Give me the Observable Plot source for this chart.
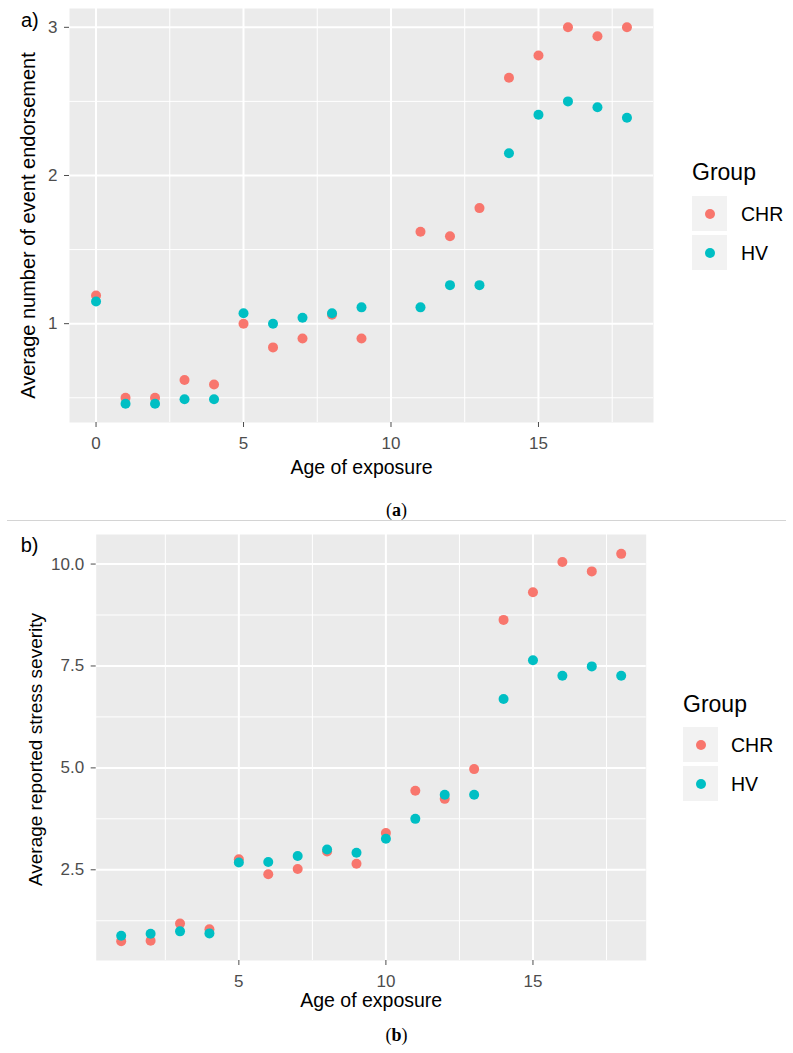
<!DOCTYPE html>
<html><head><meta charset="utf-8">
<script src="https://cdn.jsdelivr.net/npm/d3@7"></script>
<script src="https://cdn.jsdelivr.net/npm/@observablehq/plot@0.6"></script>
<style>
body{margin:0;background:#fff;font-family:"Liberation Sans",Arial,sans-serif;}
#page{position:relative;width:793px;height:1053px;overflow:hidden;background:#fff;}
.abs{position:absolute;white-space:nowrap;}
.lt{font-size:23px;line-height:26px;color:#000;}
.ll{font-size:19.5px;line-height:24px;color:#000;}
.key{position:absolute;width:35px;height:35px;background:#F2F2F2;}
.key span{position:absolute;left:12.5px;top:12.5px;width:10px;height:10px;border-radius:50%;}
.cap{font-family:"Liberation Serif","Times New Roman",serif;font-size:18px;line-height:22px;color:#000;}
</style></head><body><div id="page"></div>
<script>
// ---- data ----
const groups = ["CHR", "HV"];
const groupColors = ["#F8766D", "#00BFC4"];

// panel a: average number of event endorsement
const agesA = [0, 1, 2, 3, 4, 5, 6, 7, 8, 9, 11, 12, 13, 14, 15, 16, 17, 18];
const endorseCHR = [1.19, 0.50, 0.50, 0.62, 0.59, 1.00, 0.84, 0.90, 1.06, 0.90, 1.62, 1.59, 1.78, 2.66, 2.81, 3.00, 2.94, 3.00];
const endorseHV  = [1.15, 0.46, 0.46, 0.49, 0.49, 1.07, 1.00, 1.04, 1.07, 1.11, 1.11, 1.26, 1.26, 2.15, 2.41, 2.50, 2.46, 2.39];
const xTicksA = [0, 5, 10, 15];
const yTicksA = [1, 2, 3];

// panel b: average reported stress severity
const agesB = [1, 2, 3, 4, 5, 6, 7, 8, 9, 10, 11, 12, 13, 14, 15, 16, 17, 18];
const stressCHR = [0.75, 0.76, 1.18, 1.04, 2.76, 2.39, 2.52, 2.95, 2.65, 3.40, 4.44, 4.24, 4.97, 8.63, 9.31, 10.05, 9.82, 10.25];
const stressHV  = [0.88, 0.93, 0.99, 0.94, 2.68, 2.69, 2.84, 3.00, 2.92, 3.26, 3.75, 4.34, 4.34, 6.69, 7.64, 7.26, 7.49, 7.26];
const xTicksB = [5, 10, 15];
const yTicksB = [2.5, 5.0, 7.5, 10.0];

const xTitle = "Age of exposure";
const yTitleA = "Average number of event endorsement";
const yTitleB = "Average reported stress severity";
const legendTitle = "Group";

// ---- helpers ----
function expand([a, b]) { const p = (b - a) * 0.05; return [a - p, b + p]; }
function minorOf(major, domain) {
  const step = major[1] - major[0];
  const vals = [major[0] - step / 2, ...major.map(v => v + step / 2)];
  return vals.filter(v => v > domain[0] && v < domain[1]);
}
function panel(cfg) {
  const rows = [
    ...cfg.ages.map((a, i) => ({age: a, value: cfg.chr[i], group: groups[0]})),
    ...cfg.ages.map((a, i) => ({age: a, value: cfg.hv[i], group: groups[1]}))
  ];
  const xd = expand(d3.extent(cfg.ages));
  const yd = expand(d3.extent(rows, d => d.value));
  const ax = {fontSize: 17, color: "#4D4D4D", tickSize: 5, label: null};
  const grid = {stroke: "#fff", strokeOpacity: 1};
  return Plot.plot({
    width: 793, height: cfg.height,
    marginTop: cfg.mt, marginRight: cfg.mr, marginBottom: cfg.mb, marginLeft: cfg.ml,
    style: {fontFamily: '"Liberation Sans", Arial, sans-serif', background: "transparent", overflow: "visible"},
    x: {domain: xd, label: null},
    y: {domain: yd, label: null},
    color: {domain: groups, range: groupColors},
    marks: [
      Plot.frame({fill: "#EBEBEB", stroke: "none"}),
      Plot.gridX(minorOf(cfg.xTicks, xd), {...grid, strokeWidth: 1}),
      Plot.gridY(minorOf(cfg.yTicks, yd), {...grid, strokeWidth: 1}),
      Plot.gridX(cfg.xTicks, {...grid, strokeWidth: 2}),
      Plot.gridY(cfg.yTicks, {...grid, strokeWidth: 2}),
      Plot.axisX(cfg.xTicks, {...ax, tickPadding: 9, tickFormat: d3.format("d")}),
      Plot.axisY(cfg.yTicks, {...ax, tickPadding: 7, tickFormat: cfg.yFormat}),
      Plot.dot(rows, {x: "age", y: "value", fill: "group", r: 5}),
      Plot.text([xTitle], {text: d => d, frameAnchor: "bottom", dy: cfg.xTitleDy, fontSize: 19.5, fill: "#000", lineAnchor: "middle", textAnchor: "middle"}),
      Plot.text([cfg.yTitle], {text: d => d, frameAnchor: "left", dx: cfg.yTitleDx, dy: cfg.yTitleDy, rotate: -90, fontSize: cfg.yTitleSize, fill: "#000", lineAnchor: "middle", textAnchor: "middle"})
    ]
  });
}
const page = document.getElementById("page");
function place(el, left, top) {
  const d = document.createElement("div");
  d.className = "abs"; d.style.left = left + "px"; d.style.top = top + "px";
  d.appendChild(el); page.appendChild(d); return d;
}
function textDiv(txt, cls, left, top, html) {
  const d = document.createElement("div");
  d.className = "abs " + cls; d.style.left = left + "px"; d.style.top = top + "px";
  if (html) d.innerHTML = txt; else d.textContent = txt;
  page.appendChild(d); return d;
}
function legend(left, titleCenter, keyTop, labelLeft) {
  textDiv(legendTitle, "lt", left, titleCenter - 13);
  groups.forEach((g, i) => {
    const k = document.createElement("div");
    k.className = "key"; k.style.left = left + "px"; k.style.top = (keyTop + i * 39) + "px";
    const s = document.createElement("span"); s.style.background = groupColors[i];
    k.appendChild(s); page.appendChild(k);
    textDiv(g, "ll", labelLeft, keyTop + i * 39 + 17.5 - 12);
  });
}

// ---- panel a ----
place(panel({
  ages: agesA, chr: endorseCHR, hv: endorseHV, xTicks: xTicksA, yTicks: yTicksA, yFormat: d3.format("d"),
  height: 500, mt: 8, mr: 140, mb: 78, ml: 69,
  xTitleDy: 45, yTitle: yTitleA, yTitleDx: -40.5, yTitleDy: 10, yTitleSize: 20
}), 0, 0);
legend(692, 172, 196, 741);
textDiv("a)", "ll", 21, 7.7).style.fontSize = "20px";
textDiv("(<b>a</b>)", "cap", 0, 499, true).style.cssText += "width:793px;text-align:center;left:0;";

// separator
const sep = document.createElement("div");
sep.style.cssText = "position:absolute;left:7px;top:520px;width:779px;height:1px;background:#d4d4d4;";
page.appendChild(sep);

// ---- panel b ----
place(panel({
  ages: agesB, chr: stressCHR, hv: stressHV, xTicks: xTicksB, yTicks: yTicksB, yFormat: d3.format(".1f"),
  height: 531, mt: 12, mr: 147.3, mb: 93, ml: 95.7,
  xTitleDy: 40, yTitle: yTitleB, yTitleDx: -60, yTitleDy: 2, yTitleSize: 19
}), 0, 522);
legend(683, 704, 727, 731);
textDiv("b)", "ll", 20.7, 532.7).style.fontSize = "20px";
textDiv("(<b>b</b>)", "cap", 0, 1024, true).style.cssText += "width:793px;text-align:center;left:0;";
</script></body></html>
